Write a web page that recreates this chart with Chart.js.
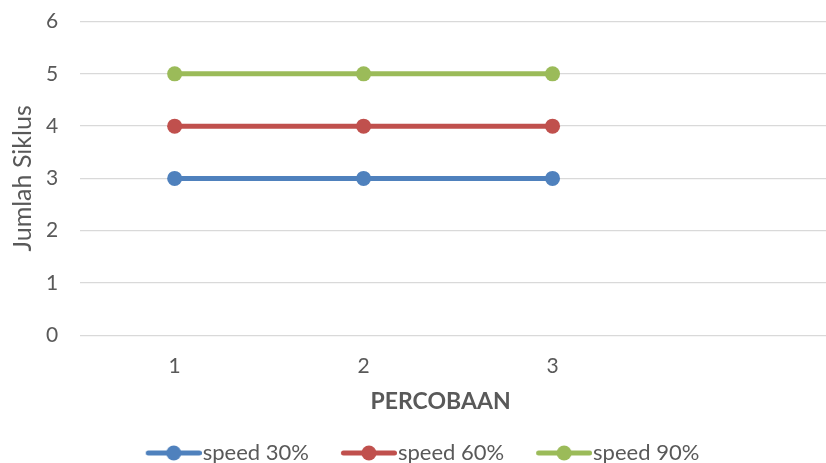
<!DOCTYPE html>
<html>
<head>
<meta charset="utf-8">
<script src="https://cdn.jsdelivr.net/npm/chart.js@4"></script>
<style>
html,body{margin:0;padding:0;background:#fff;overflow:hidden;}
#wrap{width:826px;height:463px;position:relative;overflow:hidden;}
canvas{display:block;position:absolute;left:0;top:-13px;}
</style>
</head>
<body>
<div id="wrap"><canvas id="c" width="834" height="487"></canvas></div>
<script>
const categories = [1, 2, 3];
const seriesNames = ['speed 30%', 'speed 60%', 'speed 90%'];
const speed30 = [3, 3, 3];
const speed60 = [4, 4, 4];
const speed90 = [5, 5, 5];
const yTicks = [0, 1, 2, 3, 4, 5, 6];
const xTitle = 'PERCOBAAN';
const yTitle = 'Jumlah Siklus';
const colors = ['#4F81BD', '#C0504D', '#9BBB59'];

const FONT = "Lato, 'Open Sans', sans-serif";
const TEXT = '#595959';

const BOXW = 49;
function legendIcon(color) {
  const cv = document.createElement('canvas');
  cv.width = BOXW + 20; cv.height = 18;
  const W = cv.width;
  const g = cv.getContext('2d');
  g.strokeStyle = color; g.lineWidth = 5; g.lineCap = 'round';
  g.beginPath(); g.moveTo(W - 53.5, 9); g.lineTo(W - 2.5, 9); g.stroke();
  g.fillStyle = color;
  g.beginPath(); g.arc(W - 28, 9, 7.5, 0, Math.PI * 2); g.fill();
  return cv;
}
const icons = colors.map(legendIcon);

const allSeries = [speed30, speed60, speed90];
const datasets = allSeries.map((s, i) => ({
  label: seriesNames[i],
  data: categories.map((c, j) => ({ x: c, y: s[j] })),
  borderColor: colors[i],
  backgroundColor: colors[i],
  borderWidth: 5,
  pointRadius: 7.5,
  pointHoverRadius: 7.5,
  pointBorderWidth: 0,
  pointBackgroundColor: colors[i],
  tension: 0
}));

const xTitlePlugin = {
  id: 'xTitlePlugin',
  afterDraw(chart) {
    const ctx = chart.ctx;
    const xs = chart.scales.x;
    ctx.save();
    ctx.font = "bold 23px " + FONT;
    ctx.fillStyle = TEXT;
    ctx.textAlign = 'center';
    ctx.textBaseline = 'middle';
    ctx.fillText(xTitle, xs.getPixelForValue(2) + 77, chart.chartArea.bottom + 66);
    ctx.restore();
  }
};

new Chart(document.getElementById('c'), {
  type: 'line',
  data: { datasets },
  plugins: [xTitlePlugin],
  options: {
    responsive: false,
    animation: false,
    events: [],
    layout: { padding: { top: 9, right: 0, left: 8, bottom: 0 } },
    plugins: {
      tooltip: { enabled: false },
      legend: {
        position: 'bottom',
        labels: {
          font: { family: FONT, size: 22 },
          color: TEXT,
          usePointStyle: true,
          pointStyleWidth: BOXW,
          boxHeight: 22,
          padding: 29,
          generateLabels(chart) {
            return chart.data.datasets.map((d, i) => ({
              text: d.label,
              pointStyle: icons[i],
              fillStyle: colors[i],
              strokeStyle: colors[i],
              lineWidth: 0,
              hidden: false,
              datasetIndex: i,
              fontColor: TEXT
            }));
          }
        }
      }
    },
    scales: {
      x: {
        type: 'linear',
        min: 0.5,
        max: 4.45,
        afterBuildTicks(scale) { scale.ticks = categories.map(v => ({ value: v })); },
        grid: { display: false, drawTicks: false },
        border: { display: false },
        ticks: {
          color: TEXT,
          font: { family: FONT, size: 21 },
          padding: 18,
          callback: v => String(v)
        },
        title: {
          display: true,
          text: xTitle,
          color: 'transparent',
          font: { family: FONT, size: 23, weight: 'bold' },
          padding: { top: 0, bottom: -11 }
        }
      },
      y: {
        min: yTicks[0],
        max: yTicks[yTicks.length - 1],
        afterBuildTicks(scale) { scale.ticks = yTicks.map(v => ({ value: v })); },
        grid: { color: '#D9D9D9', lineWidth: 1.3, drawTicks: false },
        border: { display: false },
        ticks: {
          color: TEXT,
          font: { family: FONT, size: 21 },
          padding: 22
        },
        title: {
          display: true,
          text: yTitle,
          color: TEXT,
          font: { family: FONT, size: 25 },
          padding: { top: 0, bottom: -14 }
        }
      }
    }
  }
});
</script>
</body>
</html>
